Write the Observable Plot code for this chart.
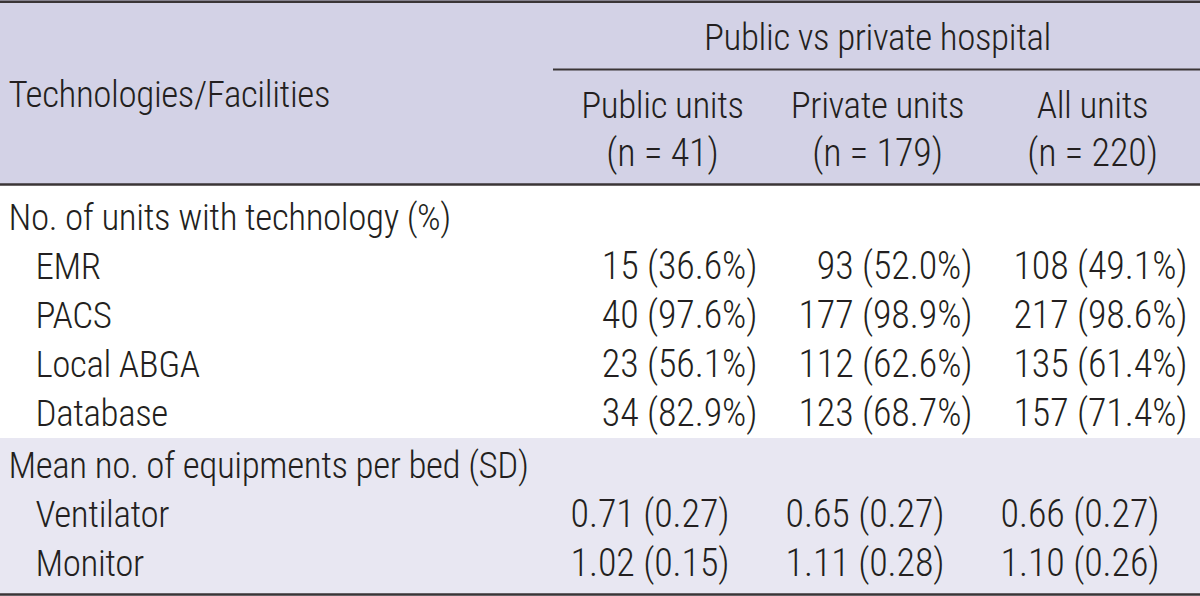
<!DOCTYPE html>
<html>
<head>
<meta charset="utf-8">
<script src="https://cdn.jsdelivr.net/npm/d3@7"></script>
<script src="https://cdn.jsdelivr.net/npm/@observablehq/plot@0.6"></script>
<style>
  html, body { margin: 0; padding: 0; background: #ffffff; }
  #chart svg { display: block; }
</style>
</head>
<body>
<div id="chart"></div>
<script>
// ---- data ----
const stubHeader = "Technologies/Facilities";
const groupHeader = "Public vs private hospital";
const columns = ["Public units", "Private units", "All units"];
const columnN = ["(n = 41)", "(n = 179)", "(n = 220)"];
const sections = ["No. of units with technology (%)", "Mean no. of equipments per bed (SD)"];

const techRows = ["EMR", "PACS", "Local ABGA", "Database"];
const publicCounts = [15, 40, 23, 34];
const publicPct = [36.6, 97.6, 56.1, 82.9];
const privateCounts = [93, 177, 112, 123];
const privatePct = [52.0, 98.9, 62.6, 68.7];
const allCounts = [108, 217, 135, 157];
const allPct = [49.1, 98.6, 61.4, 71.4];

const equipRows = ["Ventilator", "Monitor"];
const publicMean = [0.71, 1.02];
const publicSD = [0.27, 0.15];
const privateMean = [0.65, 1.11];
const privateSD = [0.27, 0.28];
const allMean = [0.66, 1.10];
const allSD = [0.27, 0.26];

// ---- layout ----
const W = 1200, H = 596;
const FS_LABEL = 37, FS_NUM = 38;
const LS_LABEL = -0.4, LS_NUM = -0.1;
const FONT = "'Roboto Condensed', 'Liberation Sans Narrow', 'DejaVu Sans Condensed', 'Liberation Sans', sans-serif";
const INK = "#231f20";
const LINE = "#3a3536";
const HEAD_BG = "#d3d2e6";
const BAND_BG = "#e8e7f2";
const headerBottom = 184, subLineY = 69, subLineX1 = 553, bandTop = 438;
const rowH = 49;
const bodyStart = 229;      // baseline of first body row
const bandStart = 477;      // baseline of second section row
const labelX = 8, indentX = 35;
const colCenters = [662, 877, 1092];
const pctRightOff = 95, meanRightOff = 67;
const mid = (b, fs) => b - 0.32 * fs; // baseline -> middle anchor

const pctCounts = [publicCounts, privateCounts, allCounts];
const pctVals = [publicPct, privatePct, allPct];
const means = [publicMean, privateMean, allMean];
const sds = [publicSD, privateSD, allSD];

const labels = [];
const numbers = [];
// header
labels.push({t: stubHeader, x: labelX, y: mid(106, FS_LABEL), a: "start"});
labels.push({t: groupHeader, x: colCenters[1], y: mid(49, FS_LABEL), a: "middle"});
columns.forEach((c, i) => labels.push({t: c, x: colCenters[i], y: mid(117, FS_LABEL), a: "middle"}));
columnN.forEach((c, i) => numbers.push({t: c, x: colCenters[i], y: mid(165, FS_NUM), a: "middle"}));
// section 1
labels.push({t: sections[0], x: labelX, y: mid(bodyStart, FS_LABEL), a: "start"});
techRows.forEach((r, j) => {
  const b = bodyStart + (j + 1) * rowH;
  labels.push({t: r, x: indentX, y: mid(b, FS_LABEL), a: "start"});
  for (let i = 0; i < 3; i++) {
    numbers.push({t: `${pctCounts[i][j]} (${pctVals[i][j].toFixed(1)}%)`, x: colCenters[i] + pctRightOff, y: mid(b, FS_NUM), a: "end"});
  }
});
// section 2
labels.push({t: sections[1], x: labelX, y: mid(bandStart, FS_LABEL), a: "start"});
equipRows.forEach((r, j) => {
  const b = bandStart + (j + 1) * rowH;
  labels.push({t: r, x: indentX, y: mid(b, FS_LABEL), a: "start"});
  for (let i = 0; i < 3; i++) {
    numbers.push({t: `${means[i][j].toFixed(2)} (${sds[i][j].toFixed(2)})`, x: colCenters[i] + meanRightOff, y: mid(b, FS_NUM), a: "end"});
  }
});

const bands = [
  {x1: 0, x2: W, y1: 0, y2: headerBottom, fill: HEAD_BG},
  {x1: 0, x2: W, y1: bandTop, y2: H, fill: BAND_BG}
];
const rules = [
  {y: 1.2, x1: 0, x2: W, w: 2.5},
  {y: subLineY, x1: subLineX1, x2: W, w: 2},
  {y: headerBottom, x1: 0, x2: W, w: 2.5},
  {y: H - 2, x1: 0, x2: W, w: 2.5}
];

const textMarks = (rows, fs) => ["start", "middle", "end"].map(anchor =>
  Plot.text(rows.filter(d => d.a === anchor), {
    x: "x", y: "y", text: "t", textAnchor: anchor, lineAnchor: "middle",
    fontSize: fs, fontFamily: FONT, fontWeight: 300, fill: INK
  }));

const chart = Plot.plot({
  width: W, height: H,
  margin: 0,
  x: {type: "linear", domain: [0, W], range: [0, W], axis: null},
  y: {type: "linear", domain: [0, H], range: [0, H], axis: null},
  style: {background: "#ffffff", fontFamily: FONT},
  marks: [
    Plot.rect(bands, {x1: "x1", x2: "x2", y1: "y1", y2: "y2", fill: "fill"}),
    Plot.ruleY(rules, {y: "y", x1: "x1", x2: "x2", stroke: LINE, strokeWidth: "w"}),
    ...textMarks(labels, FS_LABEL),
    ...textMarks(numbers, FS_NUM)
  ]
});
d3.select(chart).selectAll("g[font-size='" + FS_LABEL + "'] text").attr("letter-spacing", LS_LABEL);
d3.select(chart).selectAll("g[font-size='" + FS_NUM + "'] text").attr("letter-spacing", LS_NUM);
document.getElementById("chart").appendChild(chart);
</script>
</body>
</html>
